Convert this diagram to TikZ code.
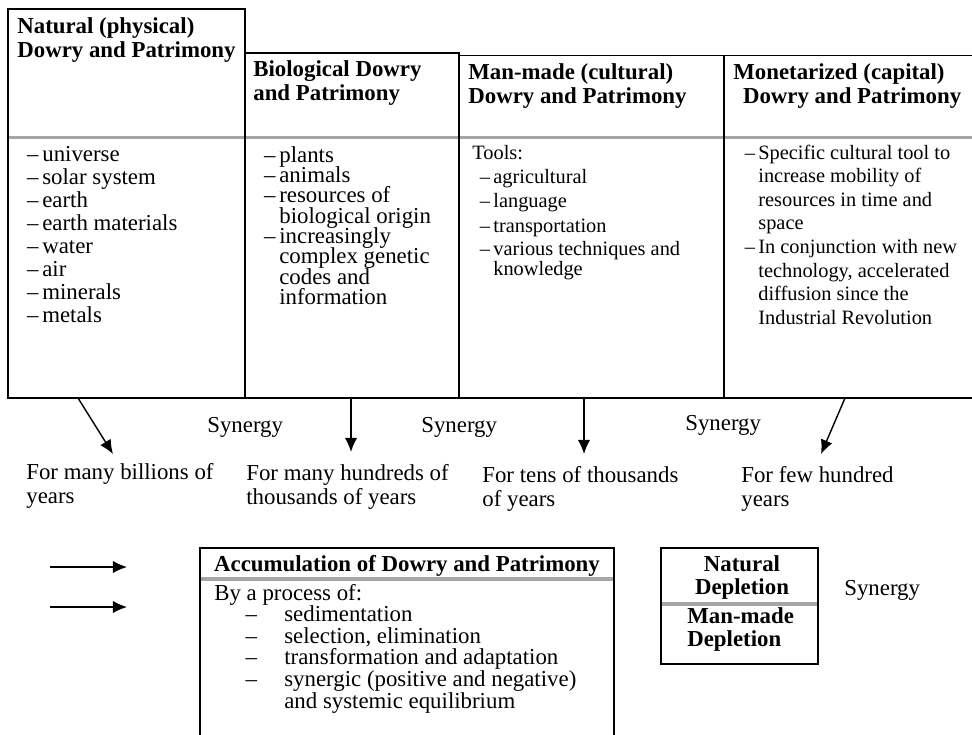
\documentclass[tikz,border=0pt]{standalone}
\usepackage{fontspec}
\setmainfont{Liberation Serif}
\usetikzlibrary{arrows.meta}
\newcommand{\itemdash}{\leavevmode\llap{–\,}}

\begin{document}
\begin{tikzpicture}[x=0.02cm, y=-0.02cm]
        \tikzstyle{every node}=[inner sep=0pt, anchor=base west, font=\fontsize{13}{14.2}\selectfont, text=black]
        \tikzstyle{title}=[font=\fontsize{13}{14.2}\selectfont\bfseries]
        \tikzstyle{frame}=[black, line width=1.1pt]
        \tikzstyle{divider}=[gray!70, line width=1.8pt]
        \tikzstyle{pointer}=[black, line width=0.8pt, -{Latex[length=8pt, width=7pt]}]

        \useasboundingbox (0,0) rectangle (972,734);

        % dividers under the headings
        \draw[divider] (9,137.5) -- (972,137.5);
        \draw[divider] (201,579) -- (613,579);
        \draw[divider] (662,604) -- (817,604);

        % frames
        \draw[frame] (8,9) rectangle (245,398);
        \draw[frame] (245,53) -- (459,53) -- (459,398);
        \draw[frame] (459,55.5) -- (972,55.5);
        \draw[frame] (724,55.5) -- (724,398);
        \draw[frame] (245,398) -- (972,398);
        \draw[frame] (200,745) -- (200,548) -- (614,548) -- (614,745);
        \draw[frame] (661,548) rectangle (818,664);

        % headings
        \node[title] (nat) at (17,33)  {\begin{tabular}[t]{@{}l@{}}Natural (physical)\\ Dowry and Patrimony\end{tabular}};
        \node[title] (bio) at (253,76) {\begin{tabular}[t]{@{}l@{}}Biological Dowry\\ and Patrimony\end{tabular}};
        \node[title] (cul) at (468,79) {\begin{tabular}[t]{@{}l@{}}Man-made (cultural)\\ Dowry and Patrimony\end{tabular}};
        \node[title] (mon) at (733,79) {\begin{tabular}[t]{@{}l@{}}Monetarized (capital)\\ \hspace{5.5pt}Dowry and Patrimony\end{tabular}};

        % lists
        \node[font=\fontsize{13}{13.1}\selectfont] (natlist) at (42,161.5) {\begin{minipage}[t]{8cm}
            \itemdash universe\\ \itemdash solar system\\ \itemdash earth\\ \itemdash earth materials\\
            \itemdash water\\ \itemdash air\\ \itemdash minerals\\ \itemdash metals\end{minipage}};
        \node[font=\fontsize{13}{11.6}\selectfont] (biolist) at (279,162) {\begin{minipage}[t]{8cm}\lineskiplimit=-20pt\relax
            \itemdash plants\\ \itemdash animals\\ \itemdash resources of\\ biological origin\\
            \itemdash increasingly\\ complex genetic\\ codes and\\ information\end{minipage}};
        \node[font=\fontsize{11.6}{13}\selectfont] (tools) at (472,159) {Tools:};
        \node[font=\fontsize{11.6}{11.5}\selectfont] (cullist) at (493,183) {\begin{minipage}[t]{8cm}\lineskiplimit=-20pt\relax
            \itemdash agricultural\\[2.5pt] \itemdash language\\[2.5pt] \itemdash transportation\\[1.5pt]
            \itemdash various techniques and\\ knowledge\end{minipage}};
        \node[font=\fontsize{11.6}{13.45}\selectfont] (monlist) at (758,159) {\begin{minipage}[t]{8cm}
            \itemdash Specific cultural tool to\\ increase mobility of\\ resources in time and\\ space\\
            \itemdash In conjunction with new\\ technology, accelerated\\ diffusion since the\\ Industrial Revolution\end{minipage}};

        % synergies and time spans
        \node (syn1) at (207,432) {Synergy};
        \node (syn2) at (421,432) {Synergy};
        \node (syn3) at (685,430) {Synergy};

        \node (t1) at (26,479)  {\begin{tabular}[t]{@{}l@{}}For many billions of\\ years\end{tabular}};
        \node (t2) at (246,480) {\begin{tabular}[t]{@{}l@{}}For many hundreds of\\ thousands of years\end{tabular}};
        \node (t3) at (482,482) {\begin{tabular}[t]{@{}l@{}}For tens of thousands\\ of years\end{tabular}};
        \node (t4) at (741,482) {\begin{tabular}[t]{@{}l@{}}For few hundred\\ years\end{tabular}};

        \coordinate (s1) at (78,398);  \coordinate (e1) at (113,454);
        \coordinate (s2) at (351,398); \coordinate (e2) at (351,452);
        \coordinate (s3) at (584,398); \coordinate (e3) at (584,454);
        \coordinate (s4) at (845,398); \coordinate (e4) at (821,454);
        \draw[pointer] (s1) -- (e1);
        \draw[pointer] (s2) -- (e2);
        \draw[pointer] (s3) -- (e3);
        \draw[pointer] (s4) -- (e4);

        % legend
        \coordinate (l1) at (50,567); \coordinate (l1e) at (127,567);
        \coordinate (l2) at (50,607); \coordinate (l2e) at (127,607);
        \draw[pointer] (l1) -- (l1e);
        \draw[pointer] (l2) -- (l2e);

        \node[title, anchor=base] (acc) at (407,571) {Accumulation of Dowry and Patrimony};
        \node (proc) at (214,600) {By a process of:};
        \node[font=\fontsize{13}{12.3}\selectfont] (proclist) at (284,621.6) {\begin{minipage}[t]{8cm}\lineskiplimit=-20pt\relax
            \leavevmode\llap{\makebox[22pt][l]{–}}sedimentation\\
            \leavevmode\llap{\makebox[22pt][l]{–}}selection, elimination\\
            \leavevmode\llap{\makebox[22pt][l]{–}}transformation and adaptation\\
            \leavevmode\llap{\makebox[22pt][l]{–}}synergic (positive and negative)\\ and systemic equilibrium\end{minipage}};

        \node[anchor=base, font=\fontsize{13}{13.6}\selectfont\bfseries] (natdep) at (742,571) {\begin{tabular}[t]{@{}c@{}}Natural\\ Depletion\end{tabular}};
        \node[font=\fontsize{13}{13.1}\selectfont\bfseries] (mandep) at (687,623) {\begin{tabular}[t]{@{}l@{}}Man-made\\ Depletion\end{tabular}};
        \node (syn4) at (844,595) {Synergy};
    \end{tikzpicture}
\end{document}
